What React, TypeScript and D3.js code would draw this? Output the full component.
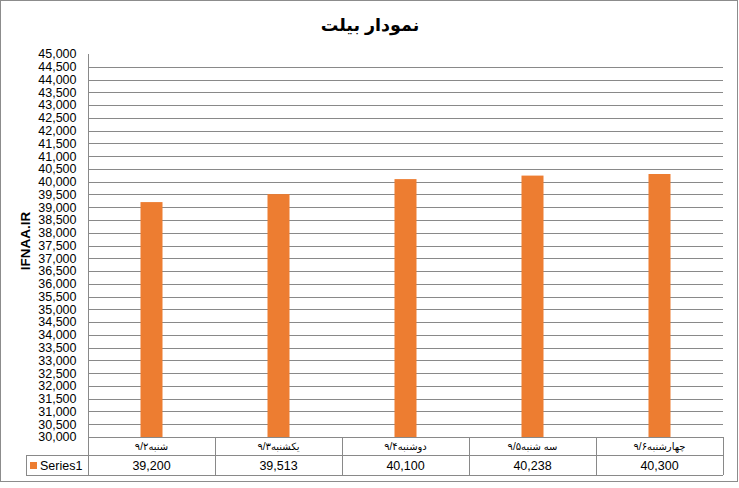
import React from "react";
import * as d3 from "d3";

const title = "نمودار بیلت";
const yTitle = "IFNAA.IR";
const categories = ["شنبه۹/۲", "یکشنبه۹/۳", "دوشنبه۹/۴", "سه شنبه۹/۵", "چهارشنبه۹/۶"];
const values = [39200, 39513, 40100, 40238, 40300];
const seriesName = "Series1";
const yMin = 30000;
const yMax = 45000;
const yStep = 500;

const W = 739;
const H = 488;
const plotLeft = 88;
const plotRight = 723;
const plotTop = 54;
const plotBottom = 437;
const catRowBottom = 455;
const tableBottom = 475;
const tableLeft = 26;
const gridColor = "#898989";
const barColor = "#ED7D31";
const font = "'Liberation Sans', Arial, 'DejaVu Sans', sans-serif";

export default function App() {
  const y = d3.scaleLinear().domain([yMin, yMax]).range([plotBottom, plotTop]);
  const x = d3.scaleBand<string>().domain(categories).range([plotLeft, plotRight]).paddingInner(0).paddingOuter(0);
  const ticks = d3.range(yMin, yMax + 1, yStep);
  const fmt = d3.format(",");
  const barW = 22;
  const boundaries = [...categories.map((c) => x(c) as number), plotRight];

  return (
    <svg width={W} height={H} style={{ position: "absolute", left: 0, top: 0, background: "#fff" }} fontFamily={font}>
      <rect x={0.5} y={0.5} width={737} height={481} fill="#fff" stroke="#8c8c8c" />
      <text x={370} y={31} textAnchor="middle" fontSize={17.5} fontWeight="bold" fill="#000">{title}</text>

      {ticks.map((t) => (
        <g key={t}>
          {t !== yMax && t !== yMin && (
            <line x1={plotLeft} x2={plotRight} y1={Math.round(y(t)) + 0.5} y2={Math.round(y(t)) + 0.5} stroke={gridColor} />
          )}
          <text x={76.5} y={y(t)} dy="0.35em" textAnchor="end" fontSize={12.5} fill="#000">{fmt(t)}</text>
        </g>
      ))}

      <text transform={`translate(25,241) rotate(-90)`} textAnchor="middle" dy="0.35em" fontSize={13.5} fontWeight="bold" fill="#000">{yTitle}</text>

      {categories.map((c, i) => (
        <rect key={c} x={(x(c) as number) + x.bandwidth() / 2 - barW / 2} y={y(values[i])} width={barW} height={y(yMin) - y(values[i])} fill={barColor} />
      ))}

      <line x1={plotLeft + 0.5} x2={plotLeft + 0.5} y1={plotTop} y2={tableBottom} stroke={gridColor} />
      <line x1={plotLeft} x2={plotRight} y1={plotBottom + 0.5} y2={plotBottom + 0.5} stroke={gridColor} />
      <line x1={tableLeft} x2={plotRight} y1={catRowBottom + 0.5} y2={catRowBottom + 0.5} stroke={gridColor} />
      <line x1={tableLeft} x2={plotRight} y1={tableBottom + 0.5} y2={tableBottom + 0.5} stroke={gridColor} />
      <line x1={tableLeft + 0.5} x2={tableLeft + 0.5} y1={catRowBottom} y2={tableBottom} stroke={gridColor} />
      {boundaries.map((b, i) => (
        <line key={i} x1={Math.round(b) + 0.5} x2={Math.round(b) + 0.5} y1={plotBottom} y2={tableBottom} stroke={gridColor} />
      ))}

      {categories.map((c, i) => (
        <g key={c}>
          <text x={(x(c) as number) + x.bandwidth() / 2} y={446} dy="0.35em" textAnchor="middle" fontSize={10} fill="#000">{c}</text>
          <text x={(x(c) as number) + x.bandwidth() / 2} y={465.5} dy="0.35em" textAnchor="middle" fontSize={12.5} fill="#000">{fmt(values[i])}</text>
        </g>
      ))}

      <rect x={30} y={462} width={7} height={7} fill={barColor} />
      <text x={40} y={465.5} dy="0.35em" fontSize={12.5} fill="#000">{seriesName}</text>
    </svg>
  );
}
